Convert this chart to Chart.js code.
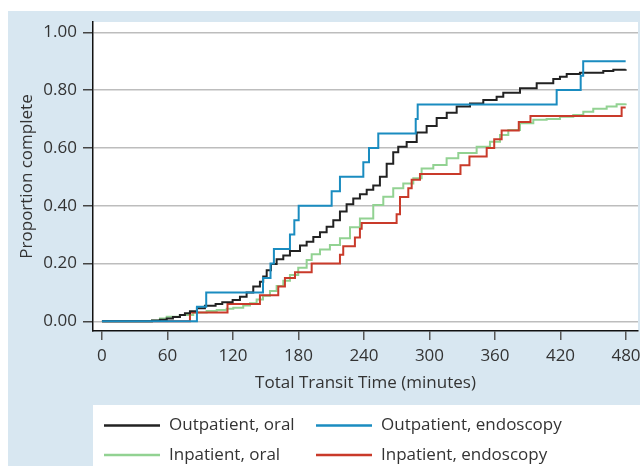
<!DOCTYPE html>
<html>
<head>
<meta charset="utf-8">
<script src="https://cdn.jsdelivr.net/npm/chart.js@4.4.0/dist/chart.umd.min.js"></script>
<style>
  html, body { margin: 0; padding: 0; background: #fff; }
  canvas { display: block; }
</style>
</head>
<body>
<canvas id="curvas" width="640" height="466"></canvas>
<script>
const seriesNames = ["Outpatient, oral", "Outpatient, endoscopy", "Inpatient, oral", "Inpatient, endoscopy"];
const xTicks = [0, 60, 120, 180, 240, 300, 360, 420, 480];
const yTicks = [0, 0.2, 0.4, 0.6, 0.8, 1.0];

// Outpatient, oral
const outOralMin = [0, 45.8, 53.1, 59.3, 65.0, 71.4, 76.0, 80.6, 87.0, 94.3,
  104.1, 110.2, 119.7, 126.4, 132.5, 138.6, 144.7, 147.7, 150.9, 154.8,
  160.0, 166.1, 172.2, 181.4, 187.5, 193.6, 199.7, 205.8, 211.9, 218.0,
  224.1, 230.2, 236.3, 242.5, 248.5, 254.6, 260.8, 266.8, 271.4, 279.1,
  288.3, 297.4, 306.6, 315.8, 324.9, 337.1, 349.3, 361.5, 367.6, 382.9,
  398.2, 413.4, 419.5, 425.7, 437.8, 459.2, 468.4, 479.7];
const outOralProp = [0, 0.003, 0.005, 0.01, 0.015, 0.022, 0.028, 0.035, 0.045, 0.054,
  0.06, 0.066, 0.074, 0.085, 0.10, 0.12, 0.137, 0.155, 0.177, 0.198,
  0.215, 0.228, 0.243, 0.262, 0.275, 0.292, 0.308, 0.327, 0.35, 0.38,
  0.405, 0.425, 0.44, 0.455, 0.47, 0.50, 0.545, 0.585, 0.604, 0.62,
  0.653, 0.676, 0.703, 0.722, 0.743, 0.754, 0.766, 0.777, 0.791, 0.806,
  0.824, 0.838, 0.846, 0.856, 0.86, 0.866, 0.87, 0.872];

// Outpatient, endoscopy
const outEndoMin = [0, 87.0, 95.5, 147.5, 154.4, 157.5, 172.2, 176.2, 180.2, 210.4,
  218.0, 239.4, 244.6, 253.1, 287.4, 289.2, 416.5, 438.5, 440.8, 479.7];
const outEndoProp = [0, 0.05, 0.10, 0.15, 0.20, 0.25, 0.30, 0.35, 0.40, 0.45,
  0.50, 0.55, 0.60, 0.65, 0.70, 0.75, 0.80, 0.85, 0.90, 0.90];

// Inpatient, oral
const inOralMin = [0, 45.8, 53.1, 59.3, 71.4, 83.6, 95.9, 105.1, 114.2, 120.3,
  129.4, 135.6, 141.7, 147.5, 153.9, 160.0, 166.1, 172.2, 179.8, 187.5,
  192.1, 199.7, 208.8, 218.0, 227.2, 236.3, 248.5, 257.7, 266.8, 276.0,
  285.2, 292.8, 303.5, 315.7, 326.4, 343.2, 355.4, 364.6, 372.2, 382.9,
  395.1, 407.3, 419.5, 431.7, 440.9, 450.0, 462.3, 471.4, 479.7];
const inOralProp = [0, 0.003, 0.01, 0.016, 0.022, 0.03, 0.036, 0.039, 0.043, 0.047,
  0.055, 0.062, 0.075, 0.088, 0.105, 0.122, 0.14, 0.16, 0.185, 0.212,
  0.232, 0.248, 0.264, 0.287, 0.325, 0.356, 0.402, 0.431, 0.46, 0.477,
  0.495, 0.529, 0.541, 0.564, 0.582, 0.604, 0.621, 0.645, 0.662, 0.685,
  0.697, 0.70, 0.708, 0.714, 0.725, 0.735, 0.743, 0.751, 0.754];

// Inpatient, endoscopy
const inEndoMin = [0, 80.6, 115.0, 144.7, 161.5, 167.6, 176.8, 192.1, 218.0, 221.0,
  231.7, 236.3, 237.9, 269.9, 273.0, 280.6, 283.7, 291.3, 328.4, 336.6,
  352.4, 359.3, 366.1, 381.8, 392.5, 476.0, 479.7];
const inEndoProp = [0, 0.03, 0.06, 0.09, 0.12, 0.15, 0.17, 0.20, 0.23, 0.26,
  0.29, 0.32, 0.34, 0.37, 0.43, 0.46, 0.49, 0.51, 0.54, 0.57,
  0.60, 0.63, 0.66, 0.69, 0.71, 0.74, 0.74];

const pares = (xs, ys) => xs.map((x, i) => ({ x: x, y: ys[i] }));

const fuente = '"Open Sans", "Noto Sans", sans-serif';
const gris = '#333333';

// light blue panel, white plot area and white legend box
const fondo = {
  id: 'fondo',
  beforeDraw(chart) {
    const { ctx, chartArea: a } = chart;
    ctx.save();
    ctx.fillStyle = '#d8e7f1';
    ctx.fillRect(8, 11, 632, 455);
    ctx.fillStyle = '#ffffff';
    ctx.fillRect(a.left, a.top, a.right - a.left, a.bottom - a.top);
    ctx.fillRect(a.left, 405, 640 - a.left, 61);
    ctx.restore();
  }
};

// two-column legend under the axis title
const leyenda = {
  id: 'leyenda',
  afterDraw(chart) {
    const ctx = chart.ctx;
    const cols = [104, 316];
    const rows = [425.5, 455];
    ctx.save();
    ctx.font = '17px ' + fuente;
    ctx.textBaseline = 'middle';
    chart.data.datasets.forEach((ds, i) => {
      const x = cols[i % 2], y = rows[Math.floor(i / 2)];
      ctx.strokeStyle = ds.borderColor;
      ctx.lineWidth = 2.5;
      ctx.beginPath();
      ctx.moveTo(x, y);
      ctx.lineTo(x + 56, y);
      ctx.stroke();
      ctx.fillStyle = gris;
      ctx.fillText(ds.label, x + 65, y);
    });
    ctx.restore();
  }
};

const linea = (label, data, color, order) => ({
  label: label,
  data: data,
  borderColor: color,
  borderWidth: 2,
  stepped: 'before',
  pointRadius: 0,
  fill: false,
  order: order
});

new Chart(document.getElementById('curvas'), {
  type: 'line',
  data: {
    datasets: [
      linea(seriesNames[0], pares(outOralMin, outOralProp), '#222222', 1),
      linea(seriesNames[1], pares(outEndoMin, outEndoProp), '#1a8cc0', 0),
      linea(seriesNames[2], pares(inOralMin, inOralProp), '#92d292', 3),
      linea(seriesNames[3], pares(inEndoMin, inEndoProp), '#c93a2a', 2)
    ]
  },
  options: {
    responsive: false,
    animation: false,
    devicePixelRatio: 1,
    layout: { padding: { left: 0, top: 22, right: 2, bottom: 61 } },
    plugins: {
      legend: { display: false },
      tooltip: { enabled: false }
    },
    scales: {
      x: {
        type: 'linear',
        min: -8.2,
        max: 491,
        afterBuildTicks: s => { s.ticks = xTicks.map(v => ({ value: v })); },
        afterFit: s => { s.height = 74; s.paddingLeft = 0; s.paddingRight = 0; },
        grid: { drawOnChartArea: false, drawTicks: true, tickLength: 9, tickColor: '#555', lineWidth: 1.5 },
        border: { display: true, color: '#111', width: 1.5 },
        ticks: { color: gris, font: { family: fuente, size: 17 }, padding: 6, maxRotation: 0,
          callback: v => String(v) },
        title: { display: true, text: 'Total Transit Time (minutes)', color: gris,
          font: { family: fuente, size: 17 }, padding: { top: 0, bottom: 12 } }
      },
      y: {
        min: -0.0336,
        max: 1.0356,
        afterBuildTicks: s => { s.ticks = yTicks.map(v => ({ value: v })); },
        afterFit: s => { s.width = 93; s.paddingTop = 0; s.paddingBottom = 0; },
        grid: { color: '#bdbdbd', lineWidth: 1.5, drawTicks: true, tickLength: 10, tickColor: '#444' },
        border: { display: true, color: '#111', width: 1.5 },
        ticks: { color: gris, font: { family: fuente, size: 17 }, padding: 6,
          callback: v => v.toFixed(2) },
        title: { display: true, text: 'Proportion complete', color: gris,
          font: { family: fuente, size: 17 }, padding: { top: 17, bottom: 0 } }
      }
    }
  },
  plugins: [fondo, leyenda]
});
</script>
</body>
</html>
